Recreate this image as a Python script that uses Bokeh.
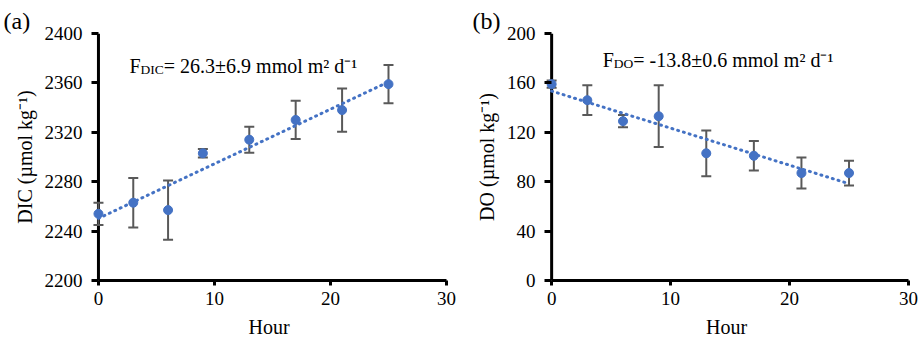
import numpy as np
from bokeh.plotting import figure
from bokeh.layouts import row
from bokeh.models import Range1d, FixedTicker, Whisker, ColumnDataSource, Label, TeeHead, Span
from bokeh.embed import file_html
from bokeh.resources import INLINE

# ---- data ----
hours = [0, 3, 6, 9, 13, 17, 21, 25]
dic = [2254, 2263, 2257, 2303, 2314, 2330, 2338, 2359]
dic_err = [9, 20, 24, 3.5, 10.5, 15.5, 17.5, 15.5]
do = [159, 146, 129, 133, 103, 101, 87, 87]
do_err = [3, 12, 5, 25, 18.5, 12, 12.5, 10]
x_ticks = [0, 10, 20, 30]
dic_ticks = [2200, 2240, 2280, 2320, 2360, 2400]
do_ticks = [0, 40, 80, 120, 160, 200]

FONT = "Liberation Serif"
BLUE = "#4472C4"
GREY = "#595959"
SUB_W = {"DIC": 1.722, "DO": 1.444}  # Times em widths of subscript strings


def panel(y, err, yticks, ylabel, letter, sub, rest, width, mb_left, mb_right,
          f_dx, f_dy, letter_dx):
    p = figure(width=width, height=341, output_backend="svg", toolbar_location=None,
               x_range=Range1d(-0.6, 30), y_range=Range1d(yticks[0], yticks[-1]),
               min_border_left=mb_left, min_border_right=mb_right,
               min_border_top=33, min_border_bottom=61)
    p.outline_line_color = None
    p.grid.visible = False
    p.background_fill_color = "white"
    p.border_fill_color = "white"

    p.title.text = letter
    p.title.align = "left"
    p.title.offset = letter_dx
    p.title.standoff = 0
    p.title.text_font = FONT
    p.title.text_font_size = "24px"
    p.title.text_font_style = "normal"
    p.title.text_color = "black"

    for ax in (p.xaxis[0], p.yaxis[0]):
        ax.axis_line_color = "black"
        ax.axis_line_width = 3
        ax.major_tick_line_color = "black"
        ax.major_tick_line_width = 3
        ax.minor_tick_line_color = None
        ax.major_label_text_font = FONT
        ax.major_label_text_font_size = "19px"
        ax.major_label_text_color = "black"
        ax.axis_label_text_font = FONT
        ax.axis_label_text_font_size = "20px"
        ax.axis_label_text_font_style = "normal"
        ax.axis_label_text_color = "black"

    xa = p.xaxis[0]
    xa.ticker = FixedTicker(ticks=x_ticks)
    xa.bounds = (x_ticks[0], x_ticks[-1])
    xa.major_tick_in = 0
    xa.major_tick_out = 5
    xa.major_label_standoff = 6
    xa.axis_label = "Hour"
    xa.axis_label_standoff = 8

    ya = p.yaxis[0]
    ya.ticker = FixedTicker(ticks=yticks)
    ya.axis_line_color = None
    ya.major_tick_in = 7
    ya.major_tick_out = 0
    ya.major_label_standoff = 9
    ya.axis_label = ylabel
    ya.axis_label_standoff = 6

    p.add_layout(Span(location=0, dimension="height", line_color="black",
                      line_width=3, level="underlay"))

    src = ColumnDataSource(dict(x=hours, y=y,
                                upper=[a + b for a, b in zip(y, err)],
                                lower=[a - b for a, b in zip(y, err)]))
    w = Whisker(base="x", upper="upper", lower="lower", source=src,
                line_color=GREY, line_width=2, level="underlay",
                upper_head=TeeHead(size=10, line_color=GREY, line_width=2),
                lower_head=TeeHead(size=10, line_color=GREY, line_width=2))
    p.add_layout(w)
    p.scatter("x", "y", source=src, size=9, color=BLUE)

    coef = np.polyfit(hours, y, 1)
    xs = [min(hours), max(hours)]
    ys = list(np.polyval(coef, xs))
    p.line(xs, ys, line_color=BLUE, line_width=3, line_dash="1 5", line_cap="round")

    top = yticks[-1]
    common = dict(x=0, y=top, text_font=FONT, text_color="black",
                  text_baseline="alphabetic", text_align="left")
    p.add_layout(Label(text="F", x_offset=f_dx, y_offset=-f_dy,
                       text_font_size="20px", **common))
    sub_dx = f_dx + 0.556 * 20
    p.add_layout(Label(text=sub, x_offset=sub_dx, y_offset=-(f_dy + 3.5),
                       text_font_size="13.5px", **common))
    rest_dx = sub_dx + SUB_W[sub] * 13.5
    p.add_layout(Label(text=rest, x_offset=rest_dx, y_offset=-f_dy,
                       text_font_size="20px", **common))
    return p


p1 = panel(dic, dic_err, dic_ticks, "DIC (\u00b5mol kg\u207b\u00b9)", "(a)", "DIC",
           "= 26.3\u00b16.9 mmol m\u00b2 d\u207b\u00b9", 459, 91, 13, 31, 32, -88)
p2 = panel(do, do_err, do_ticks, "DO (\u00b5mol kg\u207b\u00b9)", "(b)", "DO",
           "= -13.8\u00b10.6 mmol m\u00b2 d\u207b\u00b9", 460, 85, 11, 51, 26, -72)

layout = row(p1, p2)
open("out.html", "w").write(file_html(layout, INLINE))
